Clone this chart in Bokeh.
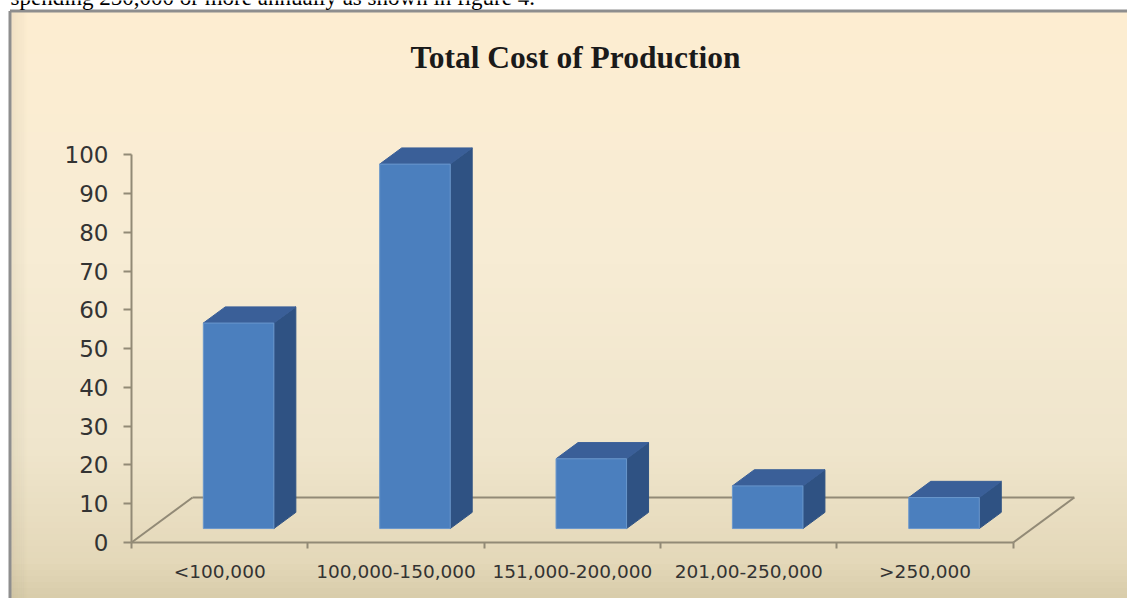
from bokeh.plotting import figure
from bokeh.models import Range1d, FixedTicker, Label
from bokeh.embed import file_html
from bokeh.resources import INLINE

# ---------------- data ----------------
categories = ["<100,000", "100,000-150,000", "151,000-200,000", "201,00-250,000", ">250,000"]
values = [53, 94, 18, 11, 8]
y_ticks = [0, 10, 20, 30, 40, 50, 60, 70, 80, 90, 100]
title_text = "Total Cost of Production"
caption_text = "spending 250,000 or more annually as shown in figure 4."

# ---------------- layout / style ----------------
W, H = 1127, 598
n = len(categories)
PX_X = 176.36           # pixels per category slot
PX_Y = 3.877            # pixels per value unit
ORIGIN_PX = (131, 542)  # where (0, 0) lands on the canvas

def px_x(px):
    return (px - ORIGIN_PX[0]) / PX_X

def px_y(py):
    return (ORIGIN_PX[1] - py) / PX_Y

FLOOR_DX = 0.346      # depth offset of the floor (x data units)
FLOOR_DY = 11.6       # depth offset of the floor (y data units)
T0, T1 = 0.31, 0.67   # bar depth span (fraction of floor depth)
BAR_W = 0.4

AXIS_COL = "#928a76"
FRONT_COL = "#4b7fbe"
TOP_COL = "#3a5f98"
SIDE_COL = "#2f5283"
LABEL_COL = "#333333"
BORDER_COL = "#8e8e8e"

p = figure(width=W, height=H,
           x_range=Range1d(px_x(0), px_x(W)), y_range=Range1d(px_y(H), px_y(0)),
           output_backend="svg", toolbar_location=None, min_border=0)
p.grid.visible = False
p.outline_line_color = None
p.background_fill_color = "#ffffff"
p.border_fill_color = "#ffffff"

# ----- chart-area background: vertical gradient drawn as thin bands -----
stops = [(12, (253, 237, 209)), (250, (247, 236, 212)), (450, (239, 229, 204)),
         (560, (228, 216, 185)), (598, (216, 204, 170))]
def grad(py):
    for (a, ca), (b, cb) in zip(stops[:-1], stops[1:]):
        if a <= py <= b:
            t = (py - a) / (b - a)
            return "#%02x%02x%02x" % tuple(int(round(ca[k] + (cb[k] - ca[k]) * t)) for k in range(3))
    return "#%02x%02x%02x" % stops[-1][1]

band_top, band_bot, band_col = [], [], []
edges = list(range(12, H + 1, 6))
if edges[-1] != H:
    edges.append(H)
for a, b in zip(edges[:-1], edges[1:]):
    band_top.append(px_y(a)); band_bot.append(px_y(b)); band_col.append(grad((a + b) / 2))
p.quad(left=px_x(11), right=px_x(W), top=band_top, bottom=band_bot,
       fill_color=band_col, line_color=band_col, line_width=1)
# soft shadow along the left border
for k in range(8):
    p.quad(left=px_x(11 + 2 * k), right=px_x(13 + 2 * k), top=px_y(12), bottom=px_y(H),
           fill_color="#8c8060", fill_alpha=0.10 * (1 - k / 8), line_color=None)
# chart border (top and left)
p.line(x=[px_x(9.5), px_x(W)], y=[px_y(10.5), px_y(10.5)], line_color=BORDER_COL, line_width=3)
p.line(x=[px_x(9.5), px_x(9.5)], y=[px_y(10.5), px_y(H)], line_color=BORDER_COL, line_width=3)

# ----- axes placed at the data origin -----
ya = p.yaxis[0]
ya.fixed_location = 0
ya.ticker = FixedTicker(ticks=y_ticks, minor_ticks=[])
ya.bounds = (0, 100)
ya.axis_line_color = AXIS_COL
ya.axis_line_width = 2
ya.major_tick_line_color = AXIS_COL
ya.major_tick_line_width = 2
ya.major_tick_out = 8
ya.major_tick_in = 0
ya.minor_tick_line_color = None
ya.major_label_text_font = "DejaVu Sans"
ya.major_label_text_font_size = "23px"
ya.major_label_text_color = LABEL_COL
ya.major_label_standoff = 15

xa = p.xaxis[0]
xa.fixed_location = 0
centers = [i + 0.5 for i in range(n)]
xa.ticker = FixedTicker(ticks=centers, minor_ticks=list(range(n + 1)))
xa.major_label_overrides = {c: cat for c, cat in zip(centers, categories)}
xa.bounds = (0, n)
xa.axis_line_color = AXIS_COL
xa.axis_line_width = 2
xa.major_tick_line_color = None
xa.major_tick_out = 0
xa.major_tick_in = 0
xa.minor_tick_line_color = AXIS_COL
xa.minor_tick_line_width = 2
xa.minor_tick_out = 6
xa.minor_tick_in = 0
xa.major_label_text_font = "DejaVu Sans"
xa.major_label_text_font_size = "18.5px"
xa.major_label_text_color = LABEL_COL
xa.major_label_standoff = 12

# ----- floor (3D base) -----
p.multi_line(xs=[[FLOOR_DX, n + FLOOR_DX], [0, FLOOR_DX], [n, n + FLOOR_DX]],
             ys=[[FLOOR_DY, FLOOR_DY], [0, FLOOR_DY], [0, FLOOR_DY]],
             line_color=AXIS_COL, line_width=2)

# ----- 3D bars -----
ddx = (T1 - T0) * FLOOR_DX
ddy = (T1 - T0) * FLOOR_DY
lefts, rights, bottoms, tops = [], [], [], []
top_xs, top_ys, side_xs, side_ys = [], [], [], []
for i, v in enumerate(values):
    x0 = i + (1 - BAR_W) / 2 + T0 * FLOOR_DX
    x1 = x0 + BAR_W
    y0 = T0 * FLOOR_DY
    y1 = y0 + v
    lefts.append(x0); rights.append(x1); bottoms.append(y0); tops.append(y1)
    top_xs.append([x0, x1, x1 + ddx, x0 + ddx])
    top_ys.append([y1, y1, y1 + ddy, y1 + ddy])
    side_xs.append([x1, x1 + ddx, x1 + ddx, x1])
    side_ys.append([y0, y0 + ddy, y1 + ddy, y1])

p.patches(xs=side_xs, ys=side_ys, fill_color=SIDE_COL, line_color=SIDE_COL, line_width=1)
p.patches(xs=top_xs, ys=top_ys, fill_color=TOP_COL, line_color=TOP_COL, line_width=1)
p.quad(left=lefts, right=rights, bottom=bottoms, top=tops,
       fill_color=FRONT_COL, line_color="#6a97cc", line_width=1)

# ----- title and the cut-off line of document text above the chart -----
p.add_layout(Label(x=px_x(575), y=px_y(57), text=title_text,
                   text_align="center", text_baseline="alphabetic",
                   text_font="Liberation Serif", text_font_style="bold",
                   text_font_size="31.5px", text_color="#1a1a1a"))
p.add_layout(Label(x=px_x(10), y=px_y(-3), text=caption_text,
                   text_align="left", text_baseline="alphabetic",
                   text_font="Liberation Serif", text_font_size="23px",
                   text_color="#000000"))

open("out.html", "w").write(file_html(p, INLINE))
